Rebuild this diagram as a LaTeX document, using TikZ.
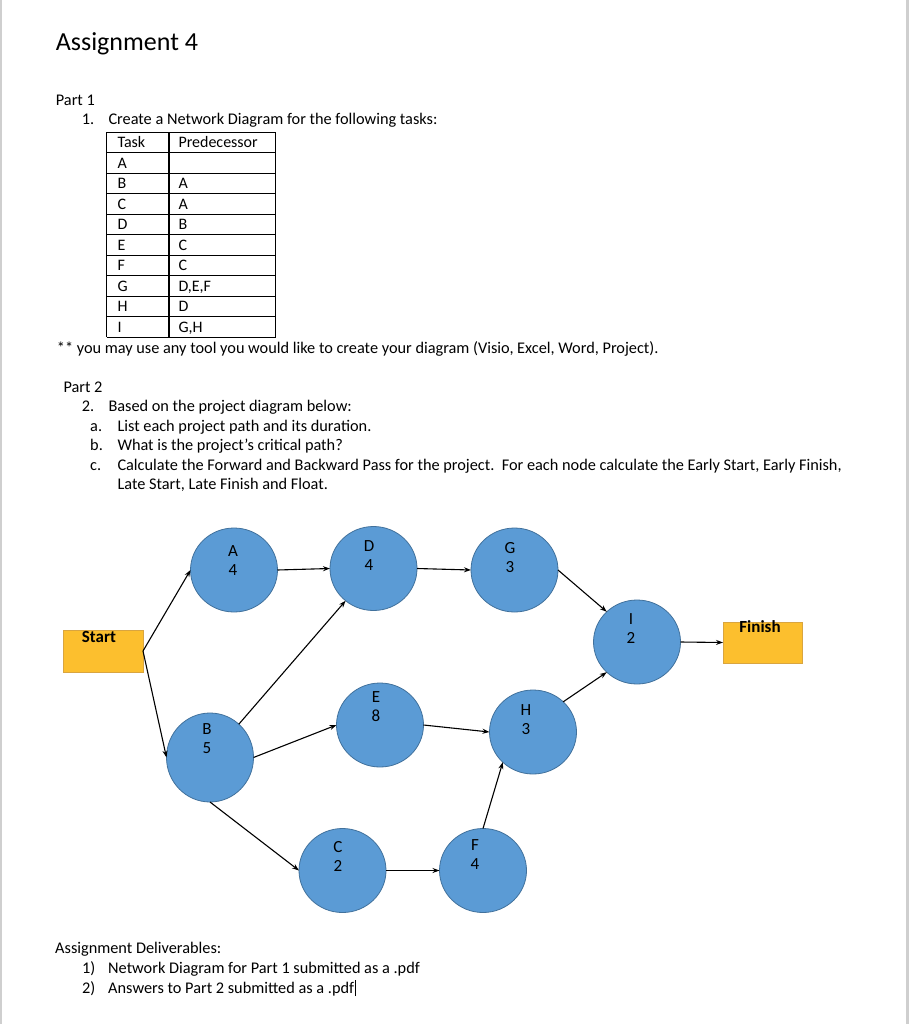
\documentclass[tikz,border=0pt]{standalone}
\usepackage{fontspec}
\setmainfont{Carlito}
\usetikzlibrary{shapes.geometric,arrows.meta}
\definecolor{nodeblue}{HTML}{5B9BD5}
\definecolor{nodeedge}{HTML}{41719C}
\definecolor{boxgold}{HTML}{FCBF2E}
\definecolor{boxedge}{HTML}{D9A540}
\definecolor{pageedge}{HTML}{CFCFCF}
\begin{document}
\begin{tikzpicture}[x=1pt,y=-1pt,
  task/.style={ellipse,fill=nodeblue,draw=nodeedge,line width=0.8pt,minimum width=87pt,minimum height=84pt,inner sep=0pt,outer sep=0pt},
  endbox/.style={rectangle,fill=boxgold,draw=boxedge,line width=0.8pt,minimum width=80pt,minimum height=42pt,inner sep=0pt,outer sep=0pt},
  tasklabel/.style={align=center,font=\fontsize{17}{19}\selectfont,inner sep=0pt},
  endlabel/.style={font=\fontsize{17}{20}\selectfont\bfseries,inner sep=0pt,anchor=base},
  body/.style={font=\fontsize{16.3}{19}\selectfont,inner sep=0pt,anchor=base west},
  cell/.style={font=\fontsize{16}{19}\selectfont,inner sep=0pt,anchor=base west},
  link/.style={line width=1.1pt,-{Stealth[length=7pt,width=5pt]}},
  grid/.style={line width=1.3pt},
]
\useasboundingbox (0,0) rectangle (909,1024);
\fill[white] (0,0) rectangle (909,1024);
\fill[pageedge] (0,0) rectangle (2,1024);
\fill[pageedge] (906,0) rectangle (909,1024);

% header text
\node[body,font=\fontsize{26}{30}\selectfont] (title) at (55.7,51) {Assignment 4};
\node[body] (p1) at (55.7,106) {Part 1};
\node[body] (n1) at (81.7,125) {1.};
\node[body] (q1) at (108.3,125) {Create a Network Diagram for the following tasks:};

% table
\foreach \i in {0,...,10} {
  \draw[grid] (106.7,132.3+20.5*\i) -- (275.7,132.3+20.5*\i);
}
\draw[grid] (106.7,132.3) -- (106.7,337.3);
\draw[grid] (169,132.3) -- (169,337.3);
\draw[grid] (275.7,132.3) -- (275.7,337.3);
\foreach \t/\p [count=\i from 0] in {Task/Predecessor,A/,B/A,C/A,D/B,E/C,F/C,G/{D,E,F},H/D,I/{G,H}} {
  \node[cell] (ta\i) at (117.3,147.7+20.5*\i) {\t};
  \node[cell] (tb\i) at (178.3,147.7+20.5*\i) {\p};
}

\node[body] (note) at (56.7,353) {** you may use any tool you would like to create your diagram (Visio, Excel, Word, Project).};
\node[body] (p2) at (63.3,392) {Part 2};
\node[body] (n2) at (81.7,411) {2.};
\node[body] (q2) at (108.3,411) {Based on the project diagram below:};
\node[body] (la) at (90,431.5) {a.};
\node[body] (qa) at (117.3,431.5) {List each project path and its duration.};
\node[body] (lb) at (90,450.7) {b.};
\node[body] (qb) at (117.3,450.7) {What is the project’s critical path?};
\node[body] (lc) at (90,470) {c.};
\node[body] (qc) at (117.3,470) {Calculate the Forward and Backward Pass for the project.\ \ For each node calculate the Early Start, Early Finish,};
\node[body] (qc2) at (117.3,489) {Late Start, Late Finish and Float.};

% diagram
\node[endbox] (start) at (103,651) {};
\node[endlabel] (startt) at (99,642.5) {Start};
\node[endbox,minimum width=79pt,minimum height=41pt] (finish) at (762.5,642.5) {};
\node[endlabel] (finisht) at (760,632.5) {Finish};

\node[task] (A) at (234,570) {};
\node[task] (D) at (373.5,568.5) {};
\node[task] (G) at (514.5,570) {};
\node[task,minimum height=89pt] (B) at (210,757.5) {};
\node[task] (E) at (380,725) {};
\node[task] (H) at (533,732) {};
\node[task] (I) at (637,642) {};
\node[task] (C) at (342.5,870.5) {};
\node[task] (F) at (483,870.5) {};

\node[tasklabel] (tA) at (233,560.5) {A\\4};
\node[tasklabel] (tD) at (369,555.5) {D\\4};
\node[tasklabel] (tG) at (510,557.5) {G\\3};
\node[tasklabel] (tB) at (207,739) {B\\5};
\node[tasklabel] (tE) at (376,707) {E\\8};
\node[tasklabel] (tH) at (526,719.5) {H\\3};
\node[tasklabel] (tI) at (631,629) {I\\2};
\node[tasklabel] (tC) at (338,856.5) {C\\2};
\node[tasklabel] (tF) at (475,855) {F\\4};

\draw[link] (start.east) -- (A.west);
\draw[link] (start.east) -- (B.west);
\draw[link] (A.east) -- (D.west);
\draw[link] (B) -- (D);
\draw[link] (B.east) -- (E.west);
\draw[link] (B.south) -- (C.west);
\draw[link] (D.east) -- (G.west);
\draw[link] (E.east) -- (H.west);
\draw[link] (G.east) -- (I.135);
\draw[link] (H.45) -- (I.225);
\draw[link] (C.east) -- (F.west);
\draw[link] (F.north) -- (H.225);
\draw[link] (I.east) -- (finish.west);

% deliverables
\node[body] (dt) at (55,953) {Assignment Deliverables:};
\node[body] (d1n) at (82,973) {1)};
\node[body] (d1) at (108,973) {Network Diagram for Part 1 submitted as a .pdf};
\node[body] (d2n) at (82,993) {2)};
\node[body] (d2) at (108,993) {Answers to Part 2 submitted as a .pdf};
\draw[line width=0.9pt] ([xshift=1pt,yshift=-3pt]d2.base east) -- ([xshift=1pt,yshift=13pt]d2.base east);
\end{tikzpicture}
\end{document}
